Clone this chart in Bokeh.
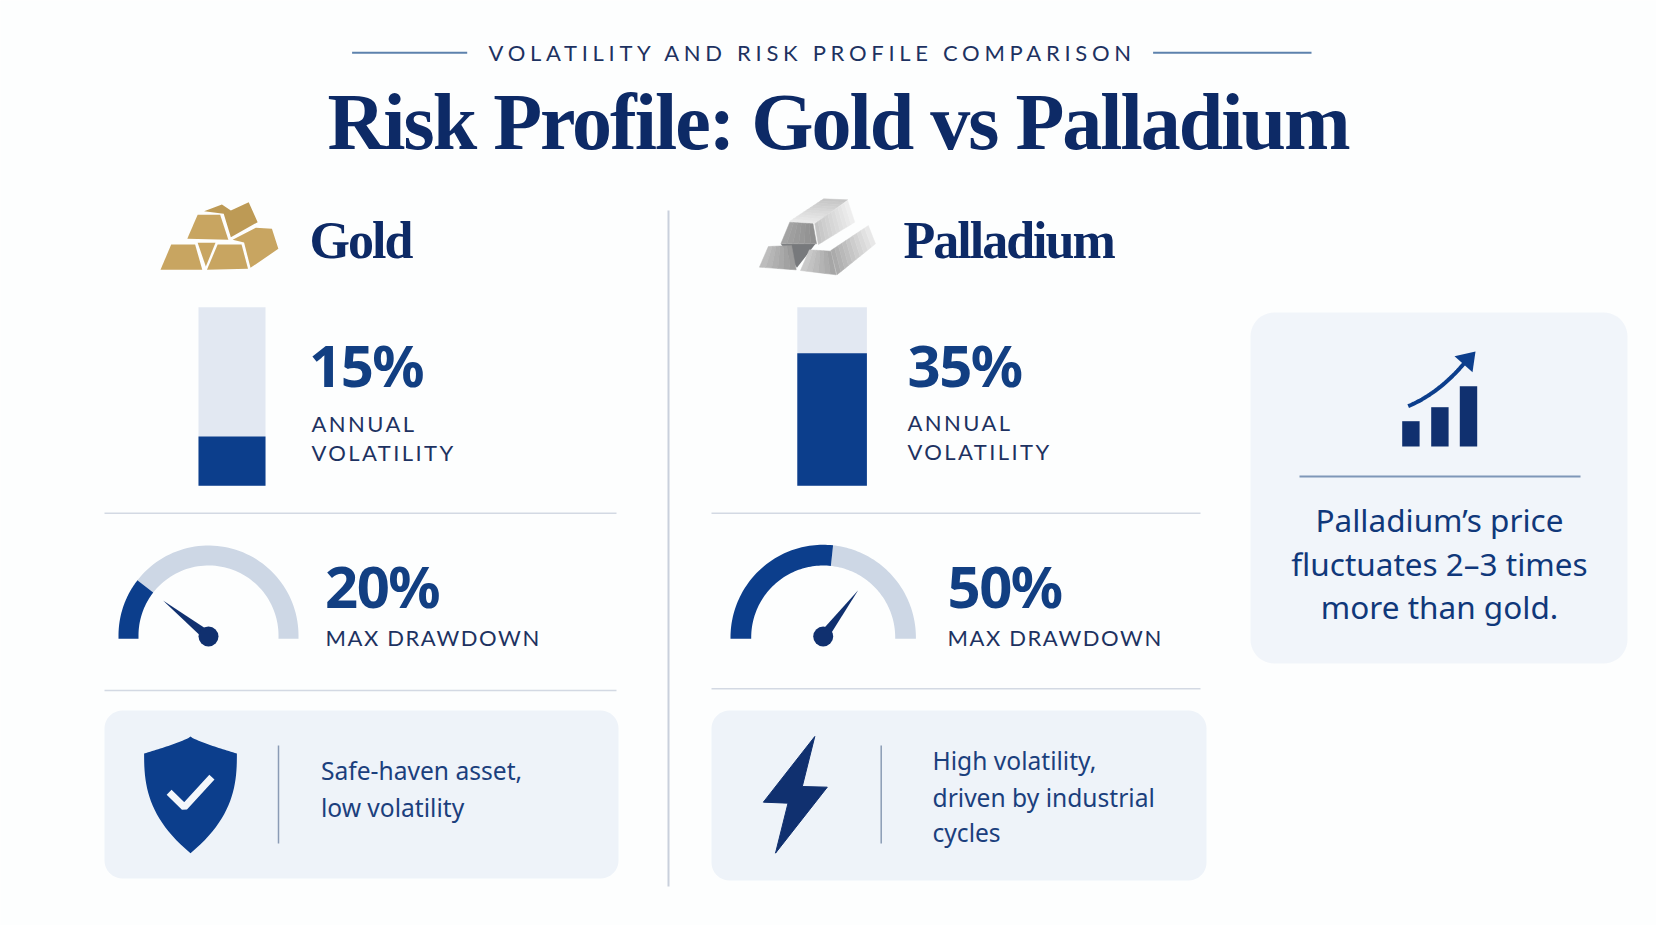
#!/usr/bin/env python
# Risk profile infographic, gold vs palladium
import numpy as np

from bokeh.core.properties import value
from bokeh.embed import file_html
from bokeh.layouts import column
from bokeh.models import Range1d
from bokeh.plotting import figure
from bokeh.resources import INLINE

# Data
metals = ["Gold", "Palladium"]
volatility_labels = ["15%", "35%"]
volatility_fill = [27.6, 74.2]     # share of the bar that is filled
drawdown_labels = ["20%", "50%"]
drawdown_fill = [21, 53.4]         # share of the half circle that is filled
needle_share = [21.3, 70.6]
notes = [["Safe-haven asset,", "low volatility"],
         ["High volatility,", "driven by industrial", "cycles"]]
callout = ["Palladium\u2019s price", "fluctuates 2\u20133 times", "more than gold."]
trend_bars = [25.3, 39.3, 60.3]

NAVY = "#0d2a66"
BLUE = "#0c3e8c"
DARK = "#10306f"
TEXT = "#1b3f7d"
NUMBER = "#123f82"
LABEL = "#1d3261"
TRACK = "#e2e8f2"
ARC = "#cdd7e5"
RULE = "#d3d9e3"
CARD = "#eef3f9"
WIDTH, HEIGHT = 1656, 925

# svg text lands under the asked baseline, by this many em per font
DROP = {"Liberation Serif": 0.34, "Noto Sans": 0.44, "Lato": 0.43}


def canvas(**kw):
    p = figure(width=WIDTH, height=HEIGHT, output_backend="svg", toolbar_location=None,
               x_range=Range1d(0, WIDTH), y_range=Range1d(HEIGHT, 0),
               x_axis_type=None, y_axis_type=None, min_border=0, **kw)
    p.grid.visible = False
    p.outline_line_color = None
    return p


def tracked(px):
    # letter-spacing only works per figure, so each tracking gets a transparent layer
    return canvas(background_fill_color=None, border_fill_color=None,
                  margin=(-HEIGHT, 0, 0, 0), styles={"letter-spacing": f"{px}px"})


def put(p, x, y, s, font, size, color, style="normal", align="left"):
    p.text([x], [y - DROP[font] * size], text=[s], text_font=value(font), text_font_size=f"{size}px",
           text_color=color, text_font_style=style, text_align=align, text_baseline="alphabetic")


def rounded(p, x0, y0, x1, y1, r, color):
    t = np.linspace(0, np.pi / 2, 12)
    xs = np.concatenate([x1 - r + r * np.sin(t), x1 - r + r * np.cos(t),
                         x0 + r - r * np.sin(t), x0 + r - r * np.cos(t)])
    ys = np.concatenate([y0 + r - r * np.cos(t), y1 - r + r * np.sin(t),
                         y1 - r + r * np.cos(t), y0 + r - r * np.sin(t)])
    p.patch(xs, ys, fill_color=color, line_color=None)


def hex_mix(c0, c1, f):
    a = [int(c0[i:i + 2], 16) for i in (1, 3, 5)]
    b = [int(c1[i:i + 2], 16) for i in (1, 3, 5)]
    return "#%02x%02x%02x" % tuple(int(round(u + (v - u) * f)) for u, v in zip(a, b))


def zoom_pts(pts, x0, y0):
    # corners were read from the 2.8x / 3x crops
    return [x0 + u / 2.8 for u, v in pts], [y0 + v / 3 for u, v in pts]


def shaded(p, pts, c0, c1, n=10):
    # quad with a fake gradient from edge p0-p3 to edge p1-p2
    a, b, c, d = [np.array(q, dtype=float) for q in pts]
    for i in range(n):
        f0, f1 = i / n, (i + 1) / n
        q = [a + (b - a) * f0, a + (b - a) * f1, d + (c - d) * f1, d + (c - d) * f0]
        col = hex_mix(c0, c1, (i + 0.5) / n)
        p.patch([u[0] for u in q], [u[1] for u in q], fill_color=col, line_color=col, line_width=0.5)


def arc_band(p, cx, cy, base, ri, ro, a0, a1, color):
    t = np.radians(np.linspace(a0, a1, 60))
    xs = list(cx - ro * np.cos(t)) + list(cx - ri * np.cos(t))[::-1]
    ys = list(cy - ro * np.sin(t)) + list(cy - ri * np.sin(t))[::-1]
    if a0 == 0:
        xs = [cx - ri, cx - ro] + xs[:-1]
        ys = [base, base] + ys[:-1]
    if a1 == 180:
        k = len(t)
        xs = xs[:k] + [cx + ro, cx + ri] + xs[k:]
        ys = ys[:k] + [base, base] + ys[k:]
    p.patch(xs, ys, fill_color=color, line_color=None)


def gauge(p, cx, cy, ro, ri, share, needle):
    base = 638.3
    split = share / 100 * 180
    arc_band(p, cx, cy, base, ri, ro, split, 180, ARC)
    arc_band(p, cx, cy, base, ri, ro, 0, split, BLUE)
    # needle is drawn from its own share around the hub
    px, py = cx, 636
    a = np.radians(needle / 100 * 180)
    ux, uy = -np.cos(a), -np.sin(a)
    p.patch([px + 58 * ux, px - 5 * uy, px + 5 * uy], [py + 58 * uy, py + 5 * ux, py - 5 * ux],
            fill_color=DARK, line_color=None)
    p.circle([px], [py], radius=10, fill_color=DARK, line_color=None)


def gold_icon(p):
    back = [(290, 92), (340, 72), (365, 90), (415, 65), (440, 125), (365, 170), (345, 100)]
    faces = [[(243, 175), (272, 103), (335, 103), (358, 178)],
             [(370, 178), (435, 142), (480, 145), (498, 205), (420, 262), (402, 186)],
             [(272, 187), (322, 187), (295, 258)],
             [(168, 268), (198, 192), (265, 192), (285, 268)],
             [(298, 268), (328, 192), (395, 192), (413, 265)]]
    xs, ys = zoom_pts(back, 100, 180)
    p.patch(xs, ys, fill_color="#bd9a55", line_color=None)
    for f in faces:
        xs, ys = zoom_pts(f, 100, 180)
        p.patch(xs, ys, fill_color="#c8a561", line_color=None)


def silver_icon(p):
    def at(*pts):
        xs, ys = zoom_pts(pts, 700, 180)
        return list(zip(xs, ys))
    xs, ys = zoom_pts([(225, 190), (322, 190), (270, 262)], 700, 180)
    p.patch(xs, ys, fill_color="#77797c", line_color=None)
    shaded(p, at((250, 122), (345, 55), (412, 58), (320, 130)), "#ececec", "#c4c4c4")
    shaded(p, at((320, 130), (412, 60), (432, 125), (330, 192)), "#c2c2c2", "#f0f0f0")
    shaded(p, at((250, 125), (315, 130), (325, 190), (225, 190)), "#a5a5a5", "#8e8e8e", 6)
    shaded(p, at((190, 198), (255, 195), (268, 268), (165, 260)), "#c0c0c0", "#989898", 6)
    shaded(p, at((305, 208), (365, 212), (380, 283), (280, 270)), "#cdcdcd", "#a2a2a2", 6)
    shaded(p, at((365, 210), (470, 135), (490, 190), (382, 283)), "#a8a8a8", "#ebebeb")


def shield(p):
    t = np.linspace(0, 1, 24)
    right_x = 190 + 46.4 * (1 - t ** 2.6)
    right_y = 753 + 99.7 * t
    top_x = 190 + 46.4 * t
    top_y = 736 + 17 * t ** 0.8
    xs = list(top_x) + list(right_x) + list(2 * 190 - right_x)[::-1] + list(2 * 190 - top_x)[::-1]
    ys = list(top_y) + list(right_y) + list(right_y)[::-1] + list(top_y)[::-1]
    p.patch(xs, ys, fill_color=BLUE, line_color=None)
    p.line([168.6, 183.9, 211.4], [791.7, 806.7, 776.7], line_color="#f4f7fb", line_width=7)


def bolt(p):
    xs, ys = zoom_pts([(320, 678), (176, 875), (245, 878), (210, 1028), (355, 830), (285, 828)], 700, 510)
    p.patch(xs, ys, fill_color=DARK, line_color=DARK, line_width=1, line_join="round")


def trend_icon(p):
    base = 446
    for left, h in zip([1401.7, 1430.7, 1459.3], trend_bars):
        p.quad(left=[left], right=[left + 17.4], top=[base - h], bottom=[base],
               fill_color=DARK, line_color=None)
    t = np.linspace(0, 1, 24)
    cx = (1 - t) ** 2 * 1407.7 + 2 * t * (1 - t) * 1440 + t ** 2 * 1466
    cy = (1 - t) ** 2 * 405.7 + 2 * t * (1 - t) * 392 + t ** 2 * 360
    p.line(cx, cy, line_color=BLUE, line_width=4)
    p.patch([1475, 1454, 1472], [351, 355.7, 371.7], fill_color=BLUE, line_color=None)


p = canvas(background_fill_color="#fdfefe", border_fill_color="#fdfefe")

# header rules
p.line([351.6, 466.7], [52.3, 52.3], line_color="#5d82ad", line_width=2)
p.line([1152.6, 1311], [52.3, 52.3], line_color="#5d82ad", line_width=2)

# separators between the rows
p.line([668, 668], [210, 886], line_color="#c9d0dc", line_width=2)
for x0, x1, y0, y1 in [(104, 616, 512.7, 690), (711, 1200, 512.7, 688.3)]:
    p.line([x0, x1], [y0, y0], line_color=RULE, line_width=1.5)
    p.line([x0, x1], [y1, y1], line_color=RULE, line_width=1.5)

gold_icon(p)
silver_icon(p)

# volatility bars
bar_top, bar_bottom = 306.7, 485.3
bar_span = bar_bottom - bar_top
for (left, right), share in zip([(198, 265), (796.8, 866.4)], volatility_fill):
    p.quad(left=[left], right=[right], top=[bar_top], bottom=[bar_bottom], fill_color=TRACK, line_color=None)
    p.quad(left=[left], right=[right], top=[bar_bottom - bar_span * share / 100], bottom=[bar_bottom],
           fill_color=BLUE, line_color=None)

# drawdown gauges
gauge(p, 208, 635, 90, 70, drawdown_fill[0], needle_share[0])
gauge(p, 822.7, 637, 92.7, 72, drawdown_fill[1], needle_share[1])

# note cards
rounded(p, 104, 710, 618, 878, 18, CARD)
rounded(p, 711, 710, 1206, 880, 18, CARD)
shield(p)
bolt(p)
p.line([278, 278], [745, 843], line_color="#8a9bb5", line_width=1.5)
p.line([880.7, 880.7], [745, 843], line_color="#8a9bb5", line_width=1.5)
for s, y in zip(notes[0], [781, 817.7]):
    put(p, 320.4, y, s, "Noto Sans", 24.6, TEXT)
for s, y in zip(notes[1], [771, 807.7, 842.7]):
    put(p, 932, y, s, "Noto Sans", 24.6, TEXT)

# callout on the right
rounded(p, 1250, 312, 1627, 663, 24, "#f1f5fa")
trend_icon(p)
p.line([1299, 1580], [476, 476], line_color="#7f97b8", line_width=2)
for s, y in zip(callout, [533, 576.5, 620]):
    put(p, 1439, y, s, "Noto Sans", 31.5, "#10387a", "normal", "center")

# title and metal names, tall and tight
serif = tracked(-2)
put(serif, 327, 148.2, "Risk Profile: Gold vs Palladium", "Liberation Serif", 80, NAVY, "bold")
put(serif, 309, 258, metals[0], "Liberation Serif", 52, NAVY, "bold")
put(serif, 903, 258, metals[1], "Liberation Serif", 52, NAVY, "bold")

numbers = tracked(-1.5)
put(numbers, 308.5, 389.5, volatility_labels[0], "Noto Sans", 58, NUMBER, "bold")
put(numbers, 907, 389.5, volatility_labels[1], "Noto Sans", 58, NUMBER, "bold")
put(numbers, 324.5, 611, drawdown_labels[0], "Noto Sans", 58, NUMBER, "bold")
put(numbers, 947, 611, drawdown_labels[1], "Noto Sans", 58, NUMBER, "bold")

header = tracked(4.7)
put(header, 488, 61, "VOLATILITY AND RISK PROFILE COMPARISON", "Lato", 22, LABEL)

annual = tracked(2.4)
put(annual, 311, 432.7, "ANNUAL", "Lato", 22, LABEL)
put(annual, 311, 461.7, "VOLATILITY", "Lato", 22, LABEL)
put(annual, 907, 431.7, "ANNUAL", "Lato", 22, LABEL)
put(annual, 907, 460.7, "VOLATILITY", "Lato", 22, LABEL)

drawdown = tracked(1.6)
put(drawdown, 325, 646, "MAX DRAWDOWN", "Lato", 22, LABEL)
put(drawdown, 947, 646, "MAX DRAWDOWN", "Lato", 22, LABEL)

page = column(p, serif, numbers, header, annual, drawdown, spacing=0)
open("out.html", "w").write(file_html(page, INLINE))
